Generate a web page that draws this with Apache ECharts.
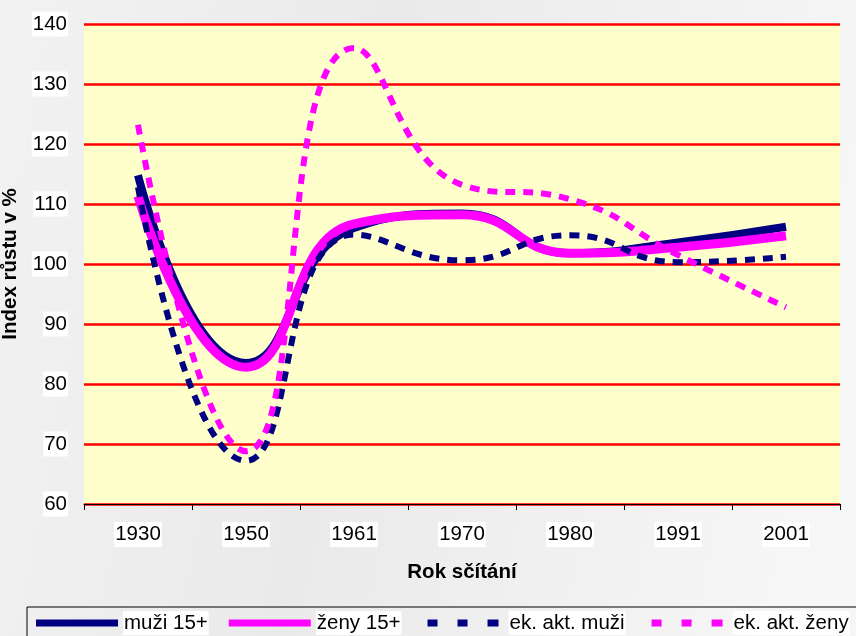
<!DOCTYPE html>
<html>
<head>
<meta charset="utf-8">
<script src="https://cdn.jsdelivr.net/npm/echarts@6/dist/echarts.min.js"></script>
<style>html,body{margin:0;padding:0;background:#f3f3f3}#c{width:856px;height:636px}</style>
</head>
<body>
<div id="c"></div>
<script>
var categories = ['1930','1950','1961','1970','1980','1991','2001'];
var muzi15 = [114.8, 83.5, 106.0, 108.4, 101.8, 103.6, 106.2];
var zeny15 = [111.3, 82.8, 106.7, 108.2, 101.8, 102.8, 104.7];
var ekAktMuzi = [112.8, 67.2, 104.9, 100.6, 104.8, 100.3, 101.2];
var ekAktZeny = [123.2, 68.8, 136.0, 113.2, 110.8, 101.5, 92.8];
var yTicks = {min: 60, max: 140, interval: 10};
var seriesNames = ['muži 15+', 'ženy 15+', 'ek. akt. muži', 'ek. akt. ženy'];

var chart = echarts.init(document.getElementById('c'));
var font = 'Liberation Sans, Arial, sans-serif';
var dashIcon = 'path://M-3,0 M3,0h10v7h-10z M33,0h10v7h-10z M63,0h11v7h-11z M79,7';
chart.setOption({
  backgroundColor: new echarts.graphic.LinearGradient(0, 0, 1, 0.25, [
    {offset: 0, color: '#f2f2f2'}, {offset: 0.45, color: '#eaeaea'}, {offset: 1, color: '#f6f6f6'}
  ]),
  animation: false,
  textStyle: {fontFamily: font},
  grid: {left: 84, right: 16, top: 24, bottom: 132, containLabel: false, outerBoundsMode: 'none',
         show: true, backgroundColor: '#ffffcc', borderWidth: 0},
  legend: {
    type: 'plain', orient: 'horizontal',
    left: 27, top: 607, width: 1100, itemWidth: 82, itemHeight: 7, itemGap: 20,
    padding: [4, 10, 14, 9],
    backgroundColor: 'transparent', borderColor: '#000', borderWidth: 1, borderRadius: 0,
    textStyle: {fontSize: 20.5, color: '#000', fontFamily: font, backgroundColor: '#fff',
                padding: [1, 1], lineHeight: 22},
    data: [
      {name: seriesNames[0], icon: 'rect', itemStyle: {color: '#000080'}},
      {name: seriesNames[1], icon: 'rect', itemStyle: {color: '#ff00ff'}},
      {name: seriesNames[2], icon: dashIcon, itemStyle: {color: '#000080'}},
      {name: seriesNames[3], icon: dashIcon, itemStyle: {color: '#ff00ff'}}
    ]
  },
  xAxis: {
    type: 'category', data: categories, boundaryGap: true,
    name: 'Rok sčítání', nameLocation: 'middle', nameGap: 58,
    nameTextStyle: {fontSize: 20.5, fontWeight: 'bold', color: '#000'},
    axisLine: {lineStyle: {color: '#000', width: 1}},
    axisTick: {show: true, length: 6, lineStyle: {color: '#000'}},
    axisLabel: {fontSize: 20.5, color: '#000', margin: 18, backgroundColor: '#fff', padding: [2, 1]},
    splitLine: {show: false}
  },
  yAxis: {
    type: 'value', min: yTicks.min, max: yTicks.max, interval: yTicks.interval,
    name: 'Index růstu v %', nameLocation: 'middle', nameGap: 56, nameRotate: 90,
    nameTextStyle: {fontSize: 20.5, fontWeight: 'bold', color: '#000'},
    axisLine: {show: false}, axisTick: {show: false},
    axisLabel: {fontSize: 20.5, color: '#000', margin: 16, backgroundColor: '#fff', padding: [2, 1]},
    splitLine: {lineStyle: {color: '#ff0000', width: 2.5}}
  },
  series: [
    {name: seriesNames[0], type: 'line', data: muzi15, smooth: 0.5, showSymbol: false, symbol: 'none',
     lineStyle: {color: '#000080', width: 8}, itemStyle: {color: '#000080'}, z: 2},
    {name: seriesNames[1], type: 'line', data: zeny15, smooth: 0.5, showSymbol: false, symbol: 'none',
     lineStyle: {color: '#ff00ff', width: 9}, itemStyle: {color: '#ff00ff'}, z: 3},
    {name: seriesNames[2], type: 'line', data: ekAktMuzi, smooth: 0.5, showSymbol: false, symbol: 'none',
     lineStyle: {color: '#000080', width: 6, type: [10, 8]}, itemStyle: {color: '#000080'}, z: 4},
    {name: seriesNames[3], type: 'line', data: ekAktZeny, smooth: 0.5, showSymbol: false, symbol: 'none',
     lineStyle: {color: '#ff00ff', width: 6, type: [10, 8]}, itemStyle: {color: '#ff00ff'}, z: 5}
  ]
});
</script>
</body>
</html>
